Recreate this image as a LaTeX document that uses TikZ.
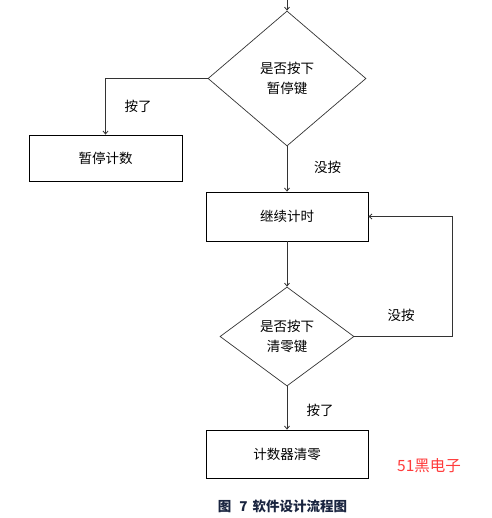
\documentclass[tikz,border=0pt]{standalone}
\usepackage{fontspec}
\setmainfont{Noto Sans CJK SC}
\usetikzlibrary{shapes.geometric,arrows.meta}
\definecolor{linegray}{HTML}{333333}
\definecolor{capblue}{HTML}{1A2540}
\definecolor{markred}{HTML}{FF3B3B}
\begin{document}
\begin{tikzpicture}[x=1pt,y=-1pt,
  every node/.style={font=\fontsize{13.5}{20}\selectfont},
  procbox/.style={draw=black,line width=0.8pt,minimum width=162pt,minimum height=48pt,inner sep=0pt},
  decision/.style={draw=linegray,line width=0.7pt,diamond,inner sep=0pt,align=center},
  conn/.style={draw=linegray,line width=0.8pt,-{Straight Barb[length=3pt,width=5pt]}},
  lbl/.style={inner sep=0pt}]
\useasboundingbox (0,0) rectangle (491,518);
\coordinate (top) at (287,0);
\node[decision,minimum width=158pt,minimum height=135pt] (d1) at (287,78.5) {是否按下\\暂停键};
\node[procbox,minimum width=153pt,minimum height=46pt] (b1) at (105.5,158) {暂停计数};
\node[procbox,minimum height=49pt] (b2) at (287,216.5) {继续计时};
\node[decision,minimum width=134pt,minimum height=99pt] (d2) at (287,336.5) {是否按下\\清零键};
\node[procbox] (b3) at (287,454) {计数器清零};
\coordinate (loop) at (452,336.5);

\draw[conn] (top) -- (d1.north);
\draw[conn] (d1.west) -| (b1.north);
\draw[conn] (d1.south) -- (b2.north);
\draw[conn] (b2.south) -- (d2.north);
\draw[conn] (d2.east) -- (loop) |- (b2.east);
\draw[conn] (d2.south) -- (b3.north);

\node[lbl] (l1) at (138,106.5) {按了};
\node[lbl] (l2) at (327.5,167) {没按};
\node[lbl] (l3) at (401,315) {没按};
\node[lbl] (l4) at (320,410.5) {按了};
\node[lbl,text=markred,font=\fontsize{15.5}{18}\selectfont] (mark) at (429,466) {51黑电子};
\node[lbl,text=capblue,font=\fontsize{13.5}{15}\selectfont\bfseries] (cap) at (282.5,506) {图\hspace{8pt}7\hspace{5pt}软件设计流程图};
\end{tikzpicture}
\end{document}
